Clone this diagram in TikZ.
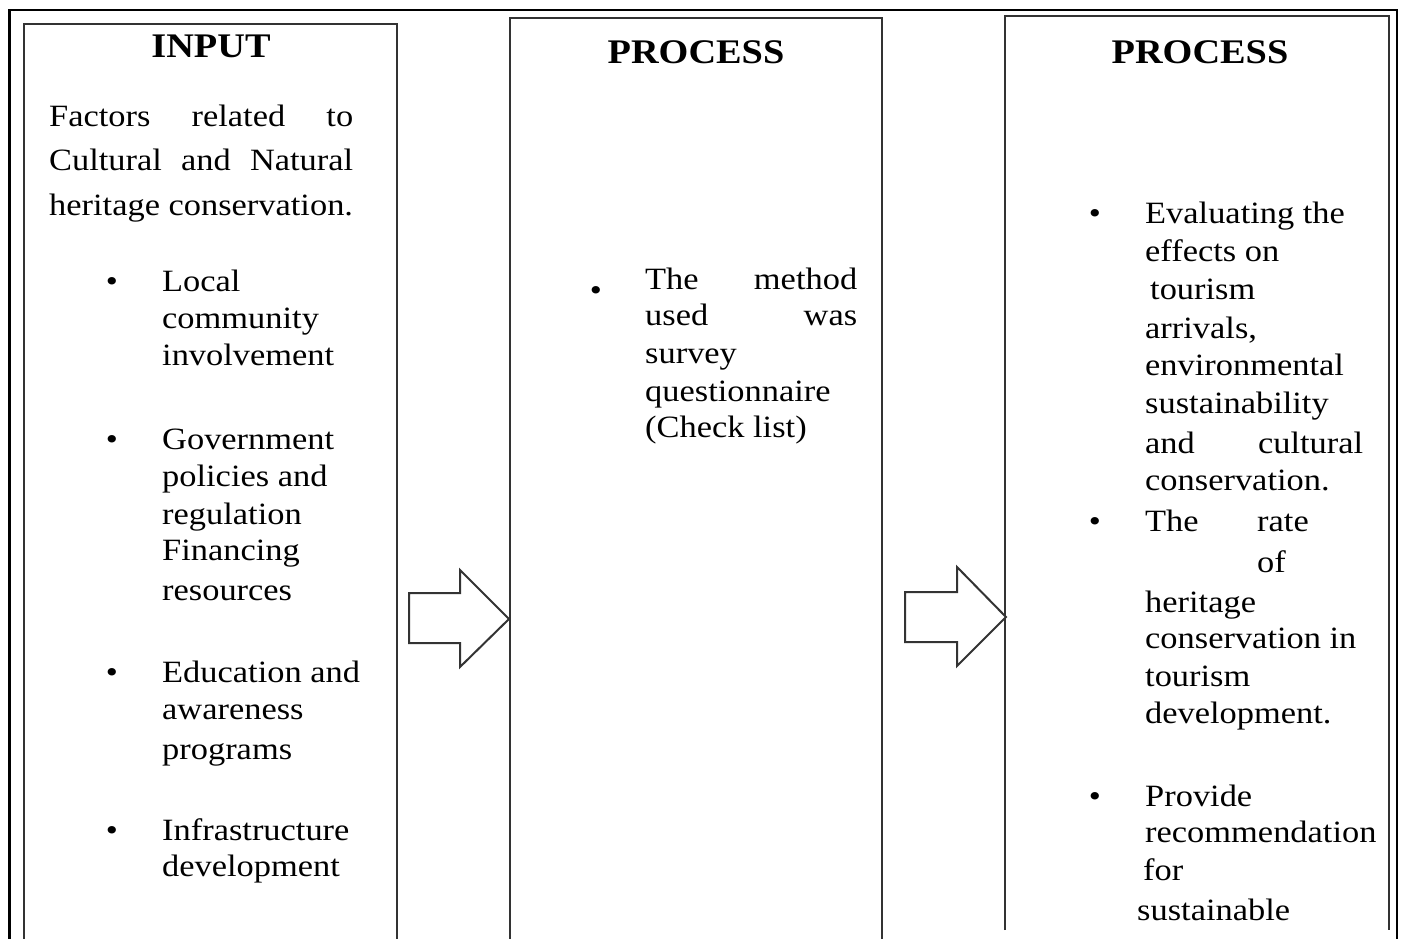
\documentclass[tikz,border=0pt]{standalone}
\usepackage{fontspec}
\setmainfont[FakeStretch=1.11]{Liberation Serif}
\newcommand\bodyf{\fontsize{31}{37}\selectfont}
\newcommand\titf{\fontsize{34.5}{40}\selectfont\bfseries}
\definecolor{boxline}{HTML}{333333}
\tikzset{
  frameline/.style={line width=2.6pt, draw=black},
  boxside/.style={line width=2pt, draw=boxline},
  blockarrow/.style={line width=2pt, draw=boxline, fill=white, line join=miter},
  txt/.style={anchor=base west, inner sep=0pt, font=\bodyf, yshift=-2pt},
  ttl/.style={anchor=base, inner sep=0pt, font=\titf},
  bul/.style={anchor=base, inner sep=0pt, font=\bodyf, yshift=-2pt},
}
\begin{document}
\begin{tikzpicture}[x=1pt,y=-1pt]
\useasboundingbox (0,0) rectangle (1401,939);
% outer frame (open at the bottom)
\draw[frameline] (9.5,939) |- (1397,10) -- (1397,939);
% three boxes (open at the bottom)
\draw[boxside] (24,939) |- (397,24) -- (397,939);
\draw[boxside] (510,939) |- (882,18) -- (882,939);
\draw[boxside] (1005,930) |- (1389,16) -- (1389,930);
% block arrows
\coordinate (a1) at (409,593);
\coordinate (a2) at (905,592);
\draw[blockarrow] (a1) -- ++(51,0) -- ++(0,-23) -- ++(49,49) -- ++(-49,48) -- ++(0,-24) -- ++(-51,0) -- cycle;
\draw[blockarrow] (a2) -- ++(52,0) -- ++(0,-25) -- ++(49,50) -- ++(-49,49) -- ++(0,-24) -- ++(-52,0) -- cycle;

% ---------- INPUT box ----------
\node[ttl] (t1) at (211,58) {INPUT};
\node[txt] (p1) at (49,125) {\makebox[304pt][s]{Factors related to}};
\node[txt] (p2) at (49,169) {\makebox[304pt][s]{Cultural and Natural}};
\node[txt] (p3) at (49,213) {heritage conservation.};
\node[bul] (b1) at (112,289) {•};
\node[txt] (l1) at (162,289) {Local};
\node[txt] (l2) at (162,326) {community};
\node[txt] (l3) at (162,363) {involvement};
\node[bul] (b2) at (112,447) {•};
\node[txt] (g1) at (162,447) {Government};
\node[txt] (g2) at (162,484) {policies and};
\node[txt] (g3) at (162,522) {regulation};
\node[txt] (g4) at (162,558) {Financing};
\node[txt] (g5) at (162,598) {resources};
\node[bul] (b3) at (112,680) {•};
\node[txt] (e1) at (162,680) {Education and};
\node[txt] (e2) at (162,717) {awareness};
\node[txt] (e3) at (162,757) {programs};
\node[bul] (b4) at (112,838) {•};
\node[txt] (i1) at (162,838) {Infrastructure};
\node[txt] (i2) at (162,874) {development};

% ---------- PROCESS box (middle) ----------
\node[ttl] (t2) at (696,64) {PROCESS};
\node[bul] (b5) at (596,298) {•};
\node[txt] (m1) at (645,287) {\makebox[212pt][s]{The method}};
\node[txt] (m2) at (645,323) {\makebox[212pt][s]{used was}};
\node[txt] (m3) at (645,361) {survey};
\node[txt] (m4) at (645,399) {questionnaire};
\node[txt] (m5) at (645,435) {(Check list)};

% ---------- PROCESS box (right) ----------
\node[ttl] (t3) at (1200,64) {PROCESS};
\node[bul] (b6) at (1095,221) {•};
\node[txt] (r1) at (1145,221) {Evaluating the};
\node[txt] (r2) at (1145,259) {effects on};
\node[txt] (r3) at (1150,297) {tourism};
\node[txt] (r4) at (1145,336) {arrivals,};
\node[txt] (r5) at (1145,373) {environmental};
\node[txt] (r6) at (1145,411) {sustainability};
\node[txt] (r7) at (1145,451) {\makebox[218pt][s]{and cultural}};
\node[txt] (r8) at (1145,488) {conservation.};
\node[bul] (b7) at (1095,529) {•};
\node[txt] (s1) at (1145,529) {The};
\node[txt] (s2) at (1257,529) {rate};
\node[txt] (s3) at (1257,570) {of};
\node[txt] (s4) at (1145,610) {heritage};
\node[txt] (s5) at (1145,646) {conservation in};
\node[txt] (s6) at (1145,684) {tourism};
\node[txt] (s7) at (1145,721) {development.};
\node[bul] (b8) at (1095,804) {•};
\node[txt] (u1) at (1145,804) {Provide};
\node[txt] (u2) at (1145,840) {recommendation};
\node[txt] (u3) at (1143,878) {for};
\node[txt] (u4) at (1137,918) {sustainable};
\end{tikzpicture}
\end{document}
